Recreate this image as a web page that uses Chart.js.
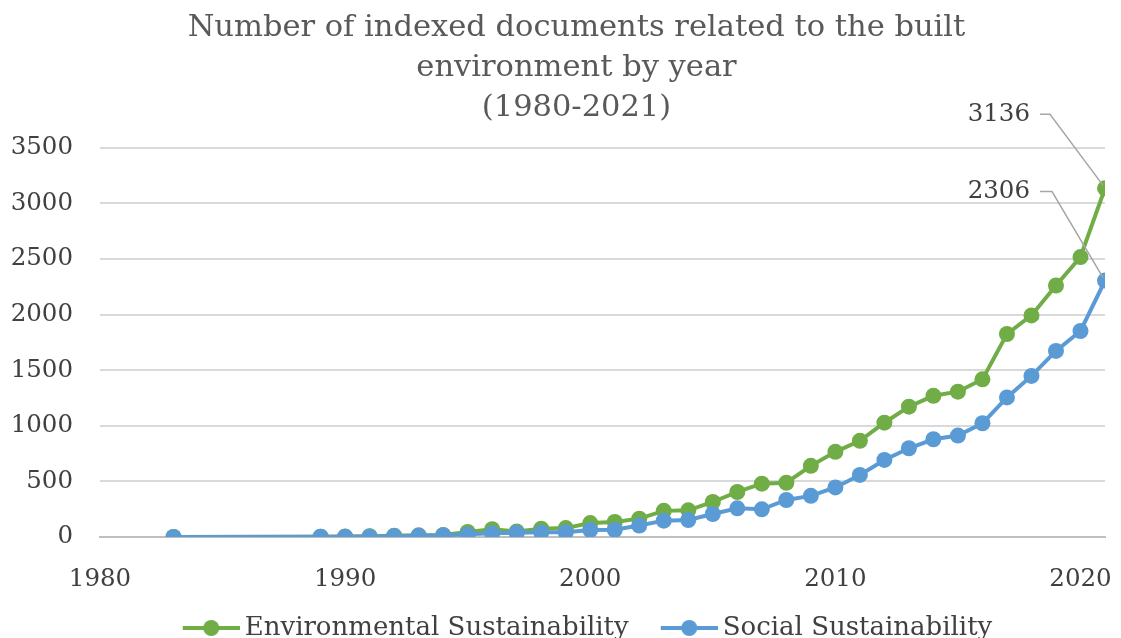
<!DOCTYPE html>
<html>
<head>
<meta charset="utf-8">
<script src="https://cdn.jsdelivr.net/npm/chart.js@4.4.1/dist/chart.umd.min.js"></script>
<style>
  html, body { margin: 0; padding: 0; background: #ffffff; overflow: hidden; }
  #wrap { width: 1121px; height: 638px; position: relative; }
</style>
</head>
<body>
<div id="wrap"><canvas id="chart"></canvas></div>
<script>
// Publication years (1984-1988 have no records)
const years = [1983, 1989, 1990, 1991, 1992, 1993, 1994, 1995, 1996, 1997, 1998, 1999,
  2000, 2001, 2002, 2003, 2004, 2005, 2006, 2007, 2008, 2009,
  2010, 2011, 2012, 2013, 2014, 2015, 2016, 2017, 2018, 2019, 2020, 2021];

// Indexed documents per year
const environmental = [1, 2, 4, 7, 11, 15, 19, 45, 70, 50, 75, 80,
  125, 135, 165, 235, 240, 315, 405, 480, 488, 640,
  766, 865, 1028, 1172, 1270, 1307, 1418, 1826, 1993, 2262, 2518, 3136];
const social = [1, 2, 3, 4, 8, 12, 15, 24, 33, 38, 42, 43,
  63, 65, 103, 147, 153, 207, 258, 249, 333, 370,
  446, 558, 693, 798, 879, 912, 1023, 1255, 1449, 1674, 1853, 2306];

const seriesNames = ['Environmental Sustainability', 'Social Sustainability'];
const xTickYears = [1980, 1990, 2000, 2010, 2020];
const yTickValues = [0, 500, 1000, 1500, 2000, 2500, 3000, 3500];
const titleLines = ['Number of indexed documents related to the built', 'environment by year', '(1980-2021)'];

const GREEN = '#70AD47';
const BLUE = '#5B9BD5';
const TEXT = '#404040';
const TITLE = '#595959';
const FONT = "'DejaVu Serif', serif";

const toPoints = vals => years.map((yr, i) => ({ x: yr, y: vals[i] }));

// Legend swatch: a short line with a round marker, shifted right inside the image
// so that it sits close to its label and further from the previous entry
function swatch(color) {
  const c = document.createElement('canvas');
  c.width = 87; c.height = 18;
  const g = c.getContext('2d');
  g.strokeStyle = color; g.lineWidth = 4;
  g.beginPath(); g.moveTo(30, 9); g.lineTo(87, 9); g.stroke();
  g.fillStyle = color;
  g.beginPath(); g.arc(58.5, 9, 8, 0, Math.PI * 2); g.fill();
  return c;
}

// Value call-outs with leader lines for the final year of each series
const callouts = {
  id: 'callouts',
  afterDatasetsDraw(chart, args, opts) {
    const ctx = chart.ctx;
    opts.items.forEach(it => {
      const meta = chart.getDatasetMeta(it.dataset);
      const idx = meta.data.length - 1;
      const pt = meta.data[idx];
      const value = chart.data.datasets[it.dataset].data[idx].y;
      const tx = pt.x + it.dx, ty = pt.y + it.dy;
      ctx.save();
      ctx.font = '24.5px ' + FONT;
      ctx.fillStyle = TEXT;
      ctx.textAlign = 'right';
      ctx.textBaseline = 'middle';
      ctx.fillText(String(value), tx, ty);
      ctx.strokeStyle = '#A6A6A6';
      ctx.lineWidth = 1.5;
      ctx.beginPath();
      ctx.moveTo(tx + 10, ty);
      ctx.lineTo(tx + it.elbow, ty);
      ctx.lineTo(pt.x - 2, pt.y - 3);
      ctx.stroke();
      ctx.restore();
    });
  }
};

new Chart(document.getElementById('chart'), {
  type: 'line',
  data: {
    datasets: [
      {
        label: seriesNames[0],
        data: toPoints(environmental),
        borderColor: GREEN, backgroundColor: GREEN,
        pointBackgroundColor: GREEN, pointBorderColor: GREEN,
        legendSwatch: swatch(GREEN),
        order: 1
      },
      {
        label: seriesNames[1],
        data: toPoints(social),
        borderColor: BLUE, backgroundColor: BLUE,
        pointBackgroundColor: BLUE, pointBorderColor: BLUE,
        legendSwatch: swatch(BLUE),
        order: 0
      }
    ]
  },
  options: {
    responsive: true,
    maintainAspectRatio: false,
    animation: false,
    layout: { padding: { left: 48, right: 16, top: 0, bottom: -13 } },
    elements: {
      line: { borderWidth: 4, tension: 0 },
      point: { radius: 8, hoverRadius: 8, borderWidth: 0 }
    },
    scales: {
      x: {
        type: 'linear',
        min: 1980,
        max: 2021,
        afterBuildTicks: s => { s.ticks = xTickYears.map(v => ({ value: v })); },
        afterFit: s => { s.height = 68; s.paddingLeft = 0; s.paddingRight = 0; },
        ticks: {
          padding: 28, color: TEXT, font: { family: FONT, size: 24.5 }, maxRotation: 0,
          callback: v => String(v)
        },
        grid: { display: false, drawTicks: false },
        border: { display: true, color: '#BFBFBF', width: 2 }
      },
      y: {
        min: 0,
        max: 3500,
        afterBuildTicks: s => { s.ticks = yTickValues.map(v => ({ value: v })); },
        afterFit: s => {
          s.width = 52;
          // tick labels may extend left into the layout padding
          s._computeLabelArea = () => undefined;
        },
        ticks: { padding: 27, color: TEXT, font: { family: FONT, size: 24.5 }, callback: v => String(v) },
        grid: { color: '#D9D9D9', lineWidth: 2, drawTicks: false },
        border: { display: false }
      }
    },
    plugins: {
      title: {
        display: true,
        text: titleLines,
        color: TITLE,
        font: { family: FONT, size: 30.5, weight: 'normal', lineHeight: 1.31 },
        padding: { top: 8, bottom: 20 }
      },
      legend: {
        position: 'bottom',
        labels: {
          usePointStyle: true,
          pointStyleWidth: 71,
          padding: 10,
          color: TEXT,
          font: { family: FONT, size: 26 },
          sort: (a, b) => a.datasetIndex - b.datasetIndex,
          generateLabels: chart => {
            const items = Chart.defaults.plugins.legend.labels.generateLabels(chart);
            items.forEach(it => { it.pointStyle = chart.data.datasets[it.datasetIndex].legendSwatch; });
            return items;
          }
        }
      },
      tooltip: { enabled: false },
      callouts: {
        items: [
          { dataset: 0, dx: -75, dy: -74, elbow: 20 },
          { dataset: 1, dx: -75, dy: -89, elbow: 22 }
        ]
      }
    }
  },
  plugins: [callouts]
});
</script>
</body>
</html>
